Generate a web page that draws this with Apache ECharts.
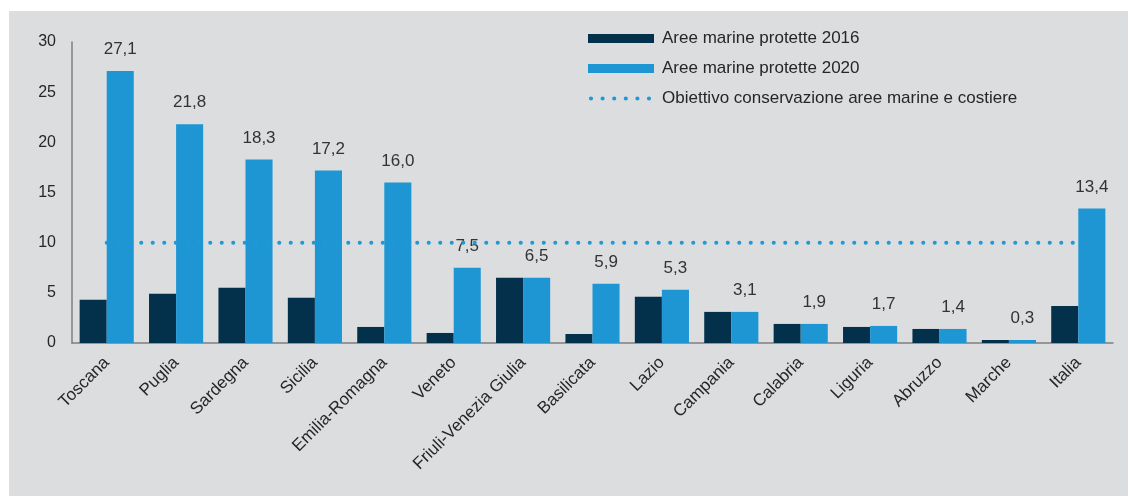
<!DOCTYPE html>
<html>
<head>
<meta charset="utf-8">
<script src="https://cdn.jsdelivr.net/npm/echarts@6/dist/echarts.min.js"></script>
<style>
html,body{margin:0;padding:0;background:#ffffff;}
#panel{position:absolute;left:9px;top:11px;width:1119px;height:485px;background:#dcdddf;}
#chart{position:absolute;left:0;top:0;width:1128px;height:496px;}
</style>
</head>
<body>
<div id="panel"></div>
<div id="chart"></div>
<script>
const categories = ["Toscana","Puglia","Sardegna","Sicilia","Emilia-Romagna","Veneto","Friuli-Venezia Giulia","Basilicata","Lazio","Campania","Calabria","Liguria","Abruzzo","Marche","Italia"];
const values2016 = [4.3, 4.9, 5.5, 4.5, 1.6, 1.0, 6.5, 0.9, 4.6, 3.1, 1.9, 1.6, 1.4, 0.3, 3.7];
const values2020 = [27.1, 21.8, 18.3, 17.2, 16.0, 7.5, 6.5, 5.9, 5.3, 3.1, 1.9, 1.7, 1.4, 0.3, 13.4];
const targetValues = [10,10,10,10,10,10,10,10,10,10,10,10,10,10,10];
const seriesNames = ["Aree marine protette 2016","Aree marine protette 2020","Obiettivo conservazione aree marine e costiere"];

function circle(cx, cy, r) {
  return 'M' + (cx - r) + ' ' + cy + ' a' + r + ' ' + r + ' 0 1 0 ' + (2 * r) + ' 0 a' + r + ' ' + r + ' 0 1 0 ' + (-2 * r) + ' 0 Z ';
}
let dotPath = 'M0 0 L0.01 0 L0.01 0.01 Z M66 9 L65.99 9 L65.99 8.99 Z ';
[3, 14.6, 26.2, 37.8, 49.4, 61].forEach(cx => { dotPath += circle(cx, 4.5, 2.1); });

const chart = echarts.init(document.getElementById('chart'), null, {renderer:'canvas'});
const font = 'Liberation Sans, Arial, sans-serif';
chart.setOption({
  backgroundColor: 'transparent',
  animation: false,
  textStyle: {fontFamily: font},
  grid: {left: 72, right: 15, top: 42, bottom: 153, containLabel: false},
  legend: {
    orient: 'vertical',
    left: 588,
    top: 30,
    padding: 0,
    itemGap: 13,
    itemWidth: 66,
    itemHeight: 9,
    textStyle: {fontFamily: font, fontSize: 17, color: '#262626', padding: [0,0,0,3]},
    data: [
      {name: seriesNames[0], icon: 'rect'},
      {name: seriesNames[1], icon: 'rect'},
      {name: seriesNames[2], icon: 'path://' + dotPath}
    ]
  },
  xAxis: {
    type: 'category',
    data: categories,
    boundaryGap: true,
    axisLine: {show: true, lineStyle: {color: '#7f7f7f', width: 1.5}},
    axisTick: {show: false},
    axisLabel: {rotate: 45, interval: 0, margin: 17, fontFamily: font, fontSize: 17, color: '#262626'}
  },
  yAxis: {
    type: 'value',
    min: 0, max: 30, interval: 5,
    axisLine: {show: true, lineStyle: {color: '#7f7f7f', width: 1.5}},
    axisTick: {show: false},
    splitLine: {show: false},
    axisLabel: {margin: 16, fontFamily: font, fontSize: 16, color: '#262626'}
  },
  series: [
    {
      name: seriesNames[0], type: 'bar', data: values2016,
      barGap: '0%', barCategoryGap: '22%',
      itemStyle: {color: '#03304b'}
    },
    {
      name: seriesNames[1], type: 'bar', data: values2020,
      barGap: '0%', barCategoryGap: '22%',
      itemStyle: {color: '#1e96d4'},
      label: {
        show: true, position: 'top', distance: 13,
        fontFamily: font, fontSize: 17, color: '#333333',
        formatter: p => p.value.toFixed(1).replace('.', ',')
      }
    },
    {
      name: seriesNames[2], type: 'line', data: targetValues,
      symbol: 'none', z: 5,
      lineStyle: {color: '#1e9ad8', width: 4, type: [0.1, 11.4], cap: 'round'},
      itemStyle: {color: '#1e9ad8'}
    }
  ]
});
</script>
</body>
</html>
